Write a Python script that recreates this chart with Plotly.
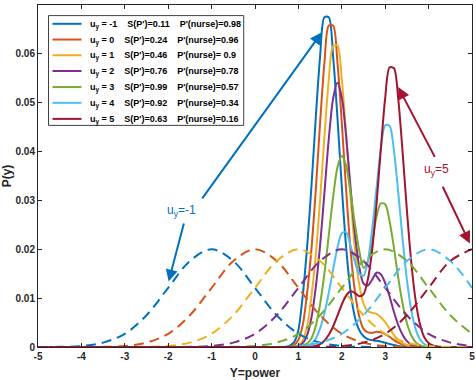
import plotly.graph_objects as go

# ---------------- data ----------------
u_labels = ["-1", "0", "1", "2", "3", "4", "5"]
s_labels = ["0.11", "0.24", "0.46", "0.76", "0.99", "0.92", "0.63"]
nurse_labels = ["0.98", "0.96", " 0.9", "0.78", "0.57", "0.34", "0.16"]

x_ticks = [-5, -4, -3, -2, -1, 0, 1, 2, 3, 4, 5]
x_tick_labels = ["-5", "-4", "-3", "-2", "-1", "0", "1", "2", "3", "4", "5"]
y_ticks = [0, 0.01, 0.02, 0.03, 0.04, 0.05, 0.06, 0.07]
y_tick_labels = ["0", "0.01", "0.02", "0.03", "0.04", "0.05", "0.06", "0.07"]

# prior (dashed) curves
x_prior = [-5.0, -4.5, -4.0, -3.5, -3.0, -2.5, -2.0, -1.5, -1.0, -0.5, 0.0,
           0.5, 1.0, 1.5, 2.0, 2.5, 3.0, 3.5, 4.0, 4.5, 5.0]
prior_m1 = [0, 0.00004, 0.0002, 0.0009, 0.0027, 0.0065, 0.0121, 0.0176, 0.0200, 0.0176, 0.0121,
            0.0065, 0.0027, 0.0009, 0.0002, 0.00004, 0, 0, 0, 0, 0]
prior_0 = [0, 0, 0, 0.00004, 0.0002, 0.0009, 0.0027, 0.0065, 0.0121, 0.0176, 0.0200,
           0.0176, 0.0121, 0.0065, 0.0027, 0.0009, 0.0002, 0.00004, 0, 0, 0]
prior_1 = [0, 0, 0, 0, 0, 0.00004, 0.0002, 0.0009, 0.0027, 0.0065, 0.0121,
           0.0176, 0.0200, 0.0176, 0.0121, 0.0065, 0.0027, 0.0009, 0.0002, 0.00004, 0]
prior_2 = [0, 0, 0, 0, 0, 0, 0, 0.00004, 0.0002, 0.0009, 0.0027,
           0.0065, 0.0121, 0.0176, 0.0200, 0.0176, 0.0121, 0.0065, 0.0027, 0.0009, 0.0002]
prior_3 = [0, 0, 0, 0, 0, 0, 0, 0, 0, 0.00004, 0.0002,
           0.0009, 0.0027, 0.0065, 0.0121, 0.0176, 0.0200, 0.0176, 0.0121, 0.0065, 0.0027]
prior_4 = [0, 0, 0, 0, 0, 0, 0, 0, 0, 0, 0,
           0.00004, 0.0002, 0.0009, 0.0027, 0.0065, 0.0121, 0.0176, 0.0200, 0.0176, 0.0121]
prior_5 = [0, 0, 0, 0, 0, 0, 0, 0, 0, 0, 0,
           0, 0, 0.00004, 0.0002, 0.0009, 0.0027, 0.0065, 0.0121, 0.0176, 0.0200]

# posterior (solid) curves
x_post = [-5.0, 0.7, 0.8, 0.9, 1.0, 1.1, 1.2, 1.3, 1.4, 1.5, 1.6, 1.7, 1.8, 1.9, 2.0,
          2.1, 2.2, 2.3, 2.4, 2.5, 2.6, 2.7, 2.8, 2.9, 3.0, 3.1, 3.2, 3.3, 3.4, 3.5,
          3.6, 3.7, 3.8, 3.9, 4.0, 4.1, 4.2, 4.3, 5.0]
post_m1 = [0, 0, 0.0003, 0.0010, 0.0035, 0.0105, 0.0204, 0.0328, 0.0469, 0.0595, 0.0675,
           0.0675, 0.0595, 0.0469, 0.0328, 0.0204, 0.0115, 0.0062, 0.0035, 0.0022, 0.0016,
           0.0014, 0.0013, 0.0011, 0.0009, 0.0006, 0.0004, 0.0002, 0.0001, 0, 0,
           0, 0, 0, 0, 0, 0, 0, 0]
post_0 = [0, 0, 0.0001, 0.0004, 0.0015, 0.0045, 0.0110, 0.0200, 0.0321, 0.0459, 0.0582,
          0.0658, 0.0658, 0.0582, 0.0459, 0.0321, 0.0200, 0.0115, 0.0063, 0.0037, 0.0030,
          0.0029, 0.0031, 0.0030, 0.0026, 0.0021, 0.0014, 0.0009, 0.0005, 0.0002, 0.0001,
          0, 0, 0, 0, 0, 0, 0, 0]
post_1 = [0, 0, 0, 0.0001, 0.0004, 0.0014, 0.0042, 0.0104, 0.0188, 0.0302, 0.0431,
          0.0547, 0.0616, 0.0617, 0.0548, 0.0435, 0.0310, 0.0203, 0.0129, 0.0089, 0.0073,
          0.0070, 0.0068, 0.0061, 0.0051, 0.0038, 0.0025, 0.0015, 0.0008, 0.0004, 0.0001,
          0, 0, 0, 0, 0, 0, 0, 0]
post_2 = [0, 0, 0, 0, 0.0002, 0.0008, 0.0024, 0.0060, 0.0122, 0.0208, 0.0316,
          0.0426, 0.0509, 0.0541, 0.0511, 0.0431, 0.0328, 0.0233, 0.0165, 0.0130, 0.0126,
          0.0138, 0.0152, 0.0149, 0.0131, 0.0104, 0.0072, 0.0045, 0.0025, 0.0012, 0.0005,
          0.0002, 0.0001, 0, 0, 0, 0, 0, 0]
post_3 = [0, 0, 0, 0, 0.0001, 0.0003, 0.0007, 0.0018, 0.0043, 0.0088, 0.0151,
          0.0229, 0.0307, 0.0368, 0.0391, 0.0371, 0.0317, 0.0253, 0.0198, 0.0162, 0.0175,
          0.0215, 0.0267, 0.0294, 0.0292, 0.0258, 0.0204, 0.0142, 0.0089, 0.0049, 0.0024,
          0.0010, 0.0004, 0.0001, 0, 0, 0, 0, 0]
post_4 = [0, 0, 0, 0, 0, 0.0001, 0.0003, 0.0007, 0.0017, 0.0038, 0.0069,
          0.0111, 0.0159, 0.0203, 0.0233, 0.0235, 0.0208, 0.0175, 0.0150, 0.0146, 0.0176,
          0.0241, 0.0325, 0.0406, 0.0454, 0.0453, 0.0403, 0.0317, 0.0222, 0.0138, 0.0076,
          0.0037, 0.0016, 0.0006, 0.0002, 0, 0, 0, 0]
post_5 = [0, 0, 0, 0, 0, 0, 0, 0.0001, 0.0002, 0.0006, 0.0013,
          0.0025, 0.0042, 0.0064, 0.0087, 0.0105, 0.0114, 0.0111, 0.0104, 0.0108, 0.0138,
          0.0199, 0.0293, 0.0406, 0.0510, 0.0572, 0.0571, 0.0508, 0.0400, 0.0280, 0.0174,
          0.0096, 0.0047, 0.0020, 0.0008, 0.0003, 0.0001, 0, 0]

priors = [prior_m1, prior_0, prior_1, prior_2, prior_3, prior_4, prior_5]
posts = [post_m1, post_0, post_1, post_2, post_3, post_4, post_5]

colors = ["#0072BD", "#D95319", "#EDB120", "#7E2F8E", "#77AC30", "#4DBEEE", "#A2142F"]

FONT = "Liberation Sans, Arial, Helvetica, sans-serif"
AX = "#262626"

fig = go.Figure()
for i, ys in enumerate(posts):
    fig.add_trace(go.Scatter(x=x_post, y=ys, mode="lines",
                             line=dict(color=colors[i], width=2, shape="spline", smoothing=0.8),
                             showlegend=False, hoverinfo="skip"))
for i, ys in enumerate(priors):
    fig.add_trace(go.Scatter(x=x_prior, y=ys, mode="lines",
                             line=dict(color=colors[i], width=2, dash="10px,6px",
                                       shape="spline", smoothing=1),
                             showlegend=False, hoverinfo="skip"))

# ---------------- manual legend ----------------
shapes = []
annotations = []
lx0, lx1, ly0, ly1 = 0.0242, 0.474, 0.648, 0.969
shapes.append(dict(type="rect", xref="paper", yref="paper", x0=lx0, x1=lx1, y0=ly0, y1=ly1,
                   line=dict(color="#404040", width=1), fillcolor="white", layer="above"))
row_y = [0.945, 0.899, 0.853, 0.807, 0.760, 0.714, 0.667]
nb = "\u00a0"
for i in range(7):
    shapes.append(dict(type="line", xref="paper", yref="paper", x0=0.0334, x1=0.1003,
                       y0=row_y[i], y1=row_y[i], line=dict(color=colors[i], width=2), layer="above"))
    txt = ("u<sub>y</sub>" + nb + "=" + nb + u_labels[i] + nb * 4 + "S(P')=" + s_labels[i]
           + nb * 4 + "P'(nurse)=" + nurse_labels[i].replace(" ", nb))
    annotations.append(dict(x=0.1142, y=row_y[i], xref="paper", yref="paper", text=txt,
                            showarrow=False, xanchor="left", yanchor="middle", yshift=-1,
                            font=dict(family=FONT, size=9, color="#000000", weight="bold")))

# ---------------- arrows and labels ----------------
arrows = [
    (1.54, 0.0644, -1.24, 0.0301, colors[0]),
    (-1.99, 0.0134, -1.63, 0.0256, colors[0]),
    (3.30, 0.0532, 4.16, 0.0386, colors[6]),
    (4.95, 0.0212, 4.31, 0.0331, colors[6]),
]
for (tx, ty, sx, sy, c) in arrows:
    annotations.append(dict(x=tx, y=ty, ax=sx, ay=sy, xref="x", yref="y", axref="x", ayref="y",
                            text="", showarrow=True, arrowhead=2, arrowsize=1.2,
                            arrowwidth=2, arrowcolor=c, standoff=0, startstandoff=0))
annotations.append(dict(x=-1.69, y=0.0278, xref="x", yref="y", text="u<sub>y</sub>=-1",
                        showarrow=False, font=dict(family=FONT, size=12, color=colors[0])))
annotations.append(dict(x=4.18, y=0.0363, xref="x", yref="y", text="u<sub>y</sub>=5",
                        showarrow=False, font=dict(family=FONT, size=12, color=colors[6])))

fig.update_layout(
    width=476, height=380,
    margin=dict(l=38, r=4, t=5, b=33),
    plot_bgcolor="white", paper_bgcolor="white",
    font=dict(family=FONT, size=10, color=AX),
    shapes=shapes, annotations=annotations,
    showlegend=False,
)
fig.update_xaxes(range=[-5, 5], tickvals=x_ticks, ticktext=x_tick_labels,
                 ticks="inside", ticklen=4, tickwidth=1, tickcolor=AX,
                 showline=True, linecolor=AX, linewidth=1, mirror="ticks",
                 showgrid=False, zeroline=False, automargin=False,
                 tickfont=dict(family=FONT, size=10, color=AX, weight="bold"),
                 title=dict(text="Y=power", standoff=7,
                            font=dict(family=FONT, size=12, color=AX, weight="bold")))
fig.update_yaxes(range=[0, 0.07], tickvals=y_ticks, ticktext=y_tick_labels,
                 ticks="inside", ticklen=4, tickwidth=1, tickcolor=AX,
                 showline=True, linecolor=AX, linewidth=1, mirror="ticks",
                 showgrid=False, zeroline=False, automargin=False,
                 tickfont=dict(family=FONT, size=10, color=AX, weight="bold"),
                 title=dict(text="P(y)", standoff=2,
                            font=dict(family=FONT, size=12, color=AX, weight="bold")))

fig.write_html("out.html", config={"displayModeBar": False},
               post_script="document.body.style.margin='0';document.body.style.overflow='hidden';")
